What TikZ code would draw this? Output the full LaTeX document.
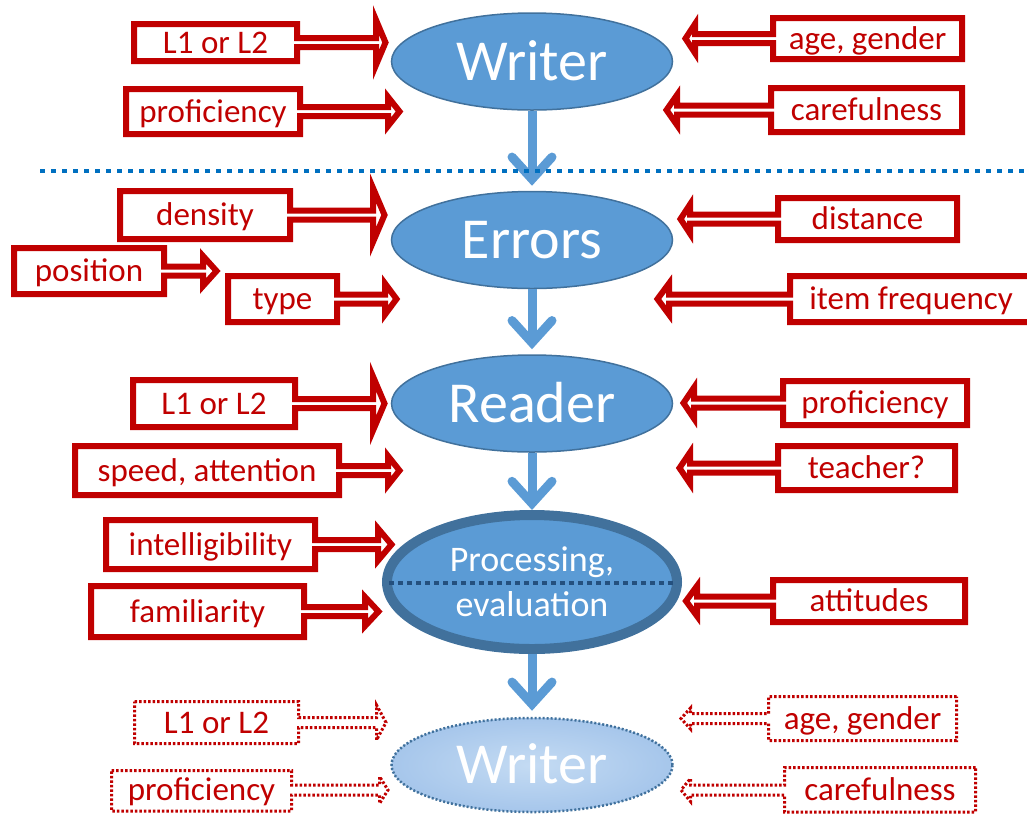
\documentclass[tikz,border=0pt]{standalone}
\usepackage{fontspec}
\setmainfont{Carlito}
\usepackage{tikz}
\usetikzlibrary{shapes.geometric,arrows.meta}
\definecolor{bubbleblue}{HTML}{5B9BD5}
\definecolor{bubbleedge}{HTML}{41719C}
\definecolor{factorred}{HTML}{C00000}
\definecolor{linkblue}{HTML}{0070C0}
\definecolor{deepblue}{HTML}{24507E}
\definecolor{paleblue}{HTML}{C4DBF3}
\definecolor{softblue}{HTML}{A6C6EB}

\tikzset{
  bubble/.style={ellipse, fill=bubbleblue, draw=bubbleedge, line width=1.5pt,
    minimum width=281pt, minimum height=97pt, inner sep=0pt, text=white,
    font=\fontsize{58}{60}\selectfont, text height=37pt, text depth=0pt},
  flow/.style={bubbleblue, line width=9pt,
    -{Straight Barb[length=22pt,width=40pt,line cap=round,line join=miter]}},
  factor/.style={factorred, line width=6pt, fill=white, line join=miter},
  faintfactor/.style={factorred, line width=3pt, fill=white, dash pattern=on 2.5pt off 2pt},
  factortext/.style={text=factorred, font=\fontsize{33}{40}\selectfont,
    inner sep=0pt, text height=21pt, text depth=0pt},
  divider/.style={linkblue, line width=4.5pt, dash pattern=on 5pt off 6pt},
}

\begin{document}
\begin{tikzpicture}[x=1pt, y=-1pt]
    \useasboundingbox (0,0) rectangle (1027,815);
    % solid factor callouts: box corners, head base, tip, head half-height
    \foreach \nm/\txt/\xa/\ya/\xb/\yb/\hx/\tx/\hh in {
        wL/{L1 or L2}/134/24/297/61/376/385.5/22.5,
        wprof/proficiency/126/89/300/134/388/399.5/14.5,
        wage/{age, gender}/773/18/962/59/695/685.5/14.5,
        wcare/carefulness/771/88/962/132/677/666.5/15,
        edens/density/120/191/290/239/373/384.5/27,
        epos/position/14/248/164/294/203/216.5/15,
        etype/type/228/276/337/322/385/396.5/15.5,
        edist/distance/778/198/957/240/690/680.5/14.5,
        efreq/{item frequency}/790/276/1032/322/669/657.5/15.5,
        rL/{L1 or L2}/133/380/295/427/373/384.5/27,
        rspeed/{speed, attention}/75/446/339/495/388/399.5/14.5,
        rprof/proficiency/783/381/967/425/694/683.5/15.5,
        rteach/teacher?/778/446/955/490/690/679.5/15.5,
        pint/intelligibility/106/520/315/569/378/391.5/16,
        pfam/familiarity/91/586/304/637/365/378.5/14.5,
        patt/attitudes/773/580/965/622/697/686/15} {
        \pgfmathsetmacro{\cy}{(\ya+\yb)/2}
        \pgfmathsetmacro{\ax}{\tx>\xb ? \xb : \xa}
        \pgfmathsetmacro{\fx}{\tx>\xb ? \xa : \xb}
        \draw[factor] (\fx,\ya) -- (\ax,\ya) -- ({\ax},{\cy-4.5}) -- ({\hx},{\cy-4.5})
            -- ({\hx},{\cy-\hh}) -- (\tx,\cy) -- ({\hx},{\cy+\hh}) -- ({\hx},{\cy+4.5})
            -- ({\ax},{\cy+4.5}) -- (\ax,\yb) -- (\fx,\yb) -- cycle;
        \node[factortext] (\nm) at ({(\xa+\xb)/2},\cy) {\txt};
    }
    % dotted callouts for the second writer
    \foreach \nm/\txt/\xa/\ya/\xb/\yb/\cy/\hx/\tx/\hh in {
        bL/{L1 or L2}/134.5/701.5/298.5/743.5/722.5/376.5/386/17.5,
        bprof/proficiency/111.5/770.5/291.5/811/790/379.5/388/13.5,
        bage/{age, gender}/768.5/696.5/956.5/740.5/718.5/690.5/681/10.5,
        bcare/carefulness/784.5/767.5/975.5/812/790/690.5/681/11.5} {
        \pgfmathsetmacro{\ax}{\tx>\xb ? \xb : \xa}
        \pgfmathsetmacro{\fx}{\tx>\xb ? \xa : \xb}
        \draw[faintfactor] (\fx,\ya) -- (\ax,\ya) -- ({\ax},{\cy-5}) -- ({\hx},{\cy-5})
            -- ({\hx},{\cy-\hh}) -- (\tx,\cy) -- ({\hx},{\cy+\hh}) -- ({\hx},{\cy+5})
            -- ({\ax},{\cy+5}) -- (\ax,\yb) -- (\fx,\yb) -- cycle;
        \node[factortext] (\nm) at ({(\xa+\xb)/2},\cy) {\txt};
    }
    % the chain of ellipses
    \node[bubble] (writer) at (532,61.5) {Writer};
    \node[bubble] (errors) at (532,240) {Errors};
    \node[bubble] (reader) at (532,403.5) {Reader};
    \node[bubble, draw=bubbleedge, line width=10pt, minimum width=290pt, minimum height=134pt,
        font=\fontsize{36}{45}\selectfont, align=center, text height=, text depth=]
        (proc) at (532,582) {Processing,\\evaluation};
    \node[bubble, draw=bubbleedge, line width=2.5pt, dash pattern=on 2pt off 2pt,
        inner color=paleblue, outer color=softblue, minimum height=94pt]
        (writer2) at (532,765) {Writer};
    % line through the processing ellipse
    \draw[deepblue, line width=4.5pt, dash pattern=on 4.5pt off 4.5pt, shorten <=7pt, shorten >=7pt]
        ([yshift=-1pt]proc.west) -- ([yshift=-1pt]proc.east);
    % flow arrows
    \draw[flow, shorten >=5pt] (writer) -- (errors);
    \draw[flow, shorten >=5pt] (errors) -- (reader);
    \draw[flow] (reader) -- (proc);
    \draw[flow, shorten >=6pt] (proc) -- (writer2);
    % separator
    \draw[divider] (40,171) -- (1030,171);
\end{tikzpicture}
\end{document}
